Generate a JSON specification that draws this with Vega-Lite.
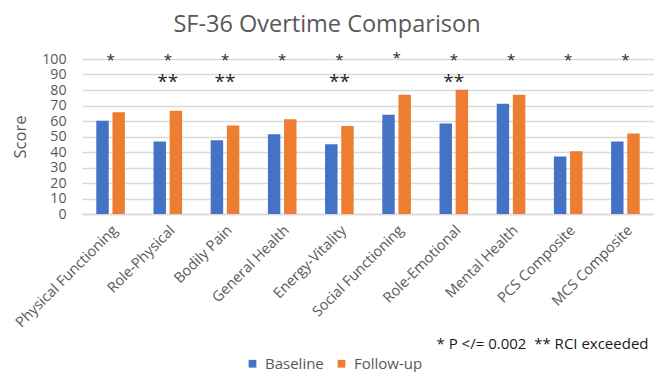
{
  "$schema": "https://vega.github.io/schema/vega-lite/v6.json",
  "autosize": {"type": "none"},
  "width": 572,
  "height": 155,
  "padding": {"left": 82, "top": 59, "right": 0, "bottom": 158},
  "background": "white",
  "config": {
    "font": "Open Sans",
    "view": {"stroke": null},
    "axis": {"labelFont": "Open Sans", "titleFont": "Open Sans"}
  },
  "title": {
    "text": "SF-36 Overtime Comparison",
    "fontSize": 23.5,
    "fontWeight": "normal",
    "color": "#595959",
    "anchor": "middle",
    "frame": "group",
    "dx": -41,
    "offset": 15
  },
  "datasets": {
    "bars": [
      {"measure": "Physical Functioning", "period": "Baseline", "score": 60.1},
      {"measure": "Physical Functioning", "period": "Follow-up", "score": 65.7},
      {"measure": "Role-Physical", "period": "Baseline", "score": 46.8},
      {"measure": "Role-Physical", "period": "Follow-up", "score": 66.6},
      {"measure": "Bodily Pain", "period": "Baseline", "score": 47.6},
      {"measure": "Bodily Pain", "period": "Follow-up", "score": 57.1},
      {"measure": "General Health", "period": "Baseline", "score": 51.5},
      {"measure": "General Health", "period": "Follow-up", "score": 61.2},
      {"measure": "Energy-Vitality", "period": "Baseline", "score": 45.0},
      {"measure": "Energy-Vitality", "period": "Follow-up", "score": 56.7},
      {"measure": "Social Functioning", "period": "Baseline", "score": 64.0},
      {"measure": "Social Functioning", "period": "Follow-up", "score": 76.9},
      {"measure": "Role-Emotional", "period": "Baseline", "score": 58.4},
      {"measure": "Role-Emotional", "period": "Follow-up", "score": 80.2},
      {"measure": "Mental Health", "period": "Baseline", "score": 71.1},
      {"measure": "Mental Health", "period": "Follow-up", "score": 76.9},
      {"measure": "PCS Composite", "period": "Baseline", "score": 37.1},
      {"measure": "PCS Composite", "period": "Follow-up", "score": 40.5},
      {"measure": "MCS Composite", "period": "Baseline", "score": 46.8},
      {"measure": "MCS Composite", "period": "Follow-up", "score": 51.9}
    ],
    "marks": [
      {"measure": "Physical Functioning", "score": 99.5, "sig": "*", "kind": "p"},
      {"measure": "Role-Physical", "score": 99.5, "sig": "*", "kind": "p"},
      {"measure": "Bodily Pain", "score": 99.5, "sig": "*", "kind": "p"},
      {"measure": "General Health", "score": 99.5, "sig": "*", "kind": "p"},
      {"measure": "Energy-Vitality", "score": 99.5, "sig": "*", "kind": "p"},
      {"measure": "Social Functioning", "score": 100.5, "sig": "*", "kind": "p"},
      {"measure": "Role-Emotional", "score": 99.5, "sig": "*", "kind": "p"},
      {"measure": "Mental Health", "score": 99.5, "sig": "*", "kind": "p"},
      {"measure": "PCS Composite", "score": 99.5, "sig": "*", "kind": "p"},
      {"measure": "MCS Composite", "score": 99.5, "sig": "*", "kind": "p"},
      {"measure": "Role-Physical", "score": 85, "sig": "**", "kind": "rci"},
      {"measure": "Bodily Pain", "score": 85, "sig": "**", "kind": "rci"},
      {"measure": "Energy-Vitality", "score": 85, "sig": "**", "kind": "rci"},
      {"measure": "Role-Emotional", "score": 85, "sig": "**", "kind": "rci"}
    ]
  },
  "encoding": {
    "x": {
      "field": "measure",
      "type": "nominal",
      "sort": null,
      "scale": {"paddingInner": 0.5, "paddingOuter": 0.25},
      "axis": {
        "title": "* P </= 0.002\u00a0\u00a0** RCI exceeded",
        "titleFontSize": 15,
        "titleFontWeight": "normal",
        "titleColor": "#1a1a1a",
        "titleAnchor": "end",
        "titleAlign": "right",
        "titleBaseline": "middle",
        "titleX": 566,
        "titleY": 129,
        "labelAngle": -45,
        "labelFontSize": 14.5,
        "labelColor": "#595959",
        "labelPadding": 9,
        "ticks": false,
        "domainColor": "#d9d9d9",
        "domainWidth": 1.5,
        "grid": false
      }
    },
    "y": {
      "field": "score",
      "type": "quantitative",
      "scale": {"domain": [0, 100]},
      "axis": {
        "title": "Score",
        "titleFontSize": 16.5,
        "titleFontWeight": "normal",
        "titleColor": "#595959",
        "titlePadding": 13,
        "values": [0, 10, 20, 30, 40, 50, 60, 70, 80, 90, 100],
        "labelOverlap": false,
        "labelFontSize": 14.2,
        "labelColor": "#595959",
        "labelPadding": 16,
        "ticks": false,
        "domain": false,
        "gridColor": "#d9d9d9",
        "gridWidth": 1.5
      }
    }
  },
  "layer": [
    {
      "data": {"name": "bars"},
      "mark": {"type": "bar"},
      "encoding": {
        "xOffset": {
          "field": "period",
          "type": "nominal",
          "scale": {"paddingInner": 0.23}
        },
        "color": {
          "field": "period",
          "type": "nominal",
          "scale": {"domain": ["Baseline", "Follow-up"], "range": ["#4472C4", "#ED7D31"]},
          "legend": {
            "title": null,
            "orient": "none",
            "direction": "horizontal",
            "legendX": 163,
            "legendY": 297,
            "symbolType": "square",
            "symbolSize": 60,
            "symbolStrokeWidth": 0,
            "labelFontSize": 15,
            "labelColor": "#595959",
            "labelOffset": 5,
            "columnPadding": 10
          }
        }
      }
    },
    {
      "data": {"name": "marks"},
      "mark": {"type": "text", "baseline": "middle", "align": "center", "color": "#262626", "clip": false},
      "encoding": {
        "text": {"field": "sig"},
        "size": {
          "field": "kind",
          "type": "nominal",
          "scale": {"domain": ["p", "rci"], "range": [15, 19]},
          "legend": null
        }
      }
    }
  ]
}
